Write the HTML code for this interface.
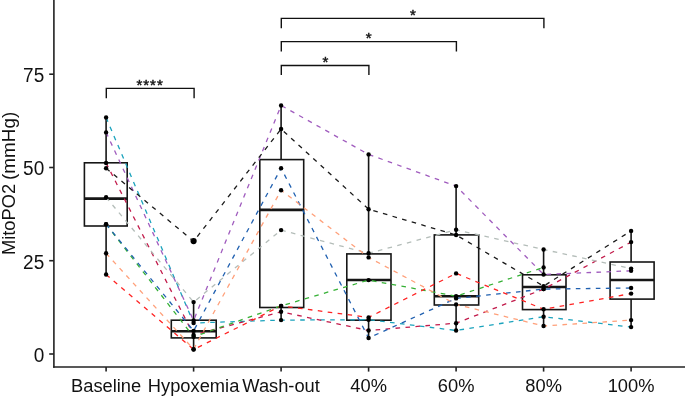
<!DOCTYPE html><html><head><meta charset="utf-8"><title>MitoPO2</title>
<style>html,body{margin:0;padding:0;background:#fff}svg{display:block}text{font-family:"Liberation Sans",Arial,sans-serif;fill:#111}</style></head><body>
<svg width="685" height="397" viewBox="0 0 685 397">
<rect width="685" height="397" fill="#fff"/>
<g fill="#fff" stroke="#161616" stroke-width="1.6">
<line x1="106.1" y1="117.0" x2="106.1" y2="162.8"/>
<line x1="106.1" y1="226.0" x2="106.1" y2="274.5"/>
<rect x="84.4" y="162.8" width="42.8" height="63.2"/>
<line x1="84.4" y1="198.6" x2="127.2" y2="198.6" stroke-width="2.6"/>
<line x1="193.6" y1="302.0" x2="193.6" y2="320.2"/>
<line x1="193.6" y1="337.9" x2="193.6" y2="349.4"/>
<rect x="171.3" y="320.2" width="44.9" height="17.7"/>
<line x1="171.3" y1="331.3" x2="216.2" y2="331.3" stroke-width="2.6"/>
<line x1="281.1" y1="105.4" x2="281.1" y2="159.6"/>
<line x1="281.1" y1="307.5" x2="281.1" y2="320.0"/>
<rect x="259.8" y="159.6" width="43.9" height="147.9"/>
<line x1="259.8" y1="209.9" x2="303.7" y2="209.9" stroke-width="2.6"/>
<line x1="368.6" y1="154.2" x2="368.6" y2="253.9"/>
<line x1="368.6" y1="320.2" x2="368.6" y2="337.9"/>
<rect x="346.8" y="253.9" width="44.2" height="66.3"/>
<line x1="346.8" y1="280.0" x2="391.0" y2="280.0" stroke-width="2.6"/>
<line x1="456.1" y1="186.0" x2="456.1" y2="234.9"/>
<line x1="456.1" y1="305.0" x2="456.1" y2="330.5"/>
<rect x="434.3" y="234.9" width="44.4" height="70.1"/>
<line x1="434.3" y1="296.3" x2="478.7" y2="296.3" stroke-width="2.6"/>
<line x1="543.6" y1="249.6" x2="543.6" y2="274.8"/>
<line x1="543.6" y1="309.6" x2="543.6" y2="326.0"/>
<rect x="522.5" y="274.8" width="43.5" height="34.8"/>
<line x1="522.5" y1="287.0" x2="566.0" y2="287.0" stroke-width="2.6"/>
<line x1="631.1" y1="230.9" x2="631.1" y2="262.0"/>
<line x1="631.1" y1="299.1" x2="631.1" y2="327.2"/>
<rect x="610.1" y="262.0" width="44.0" height="37.1"/>
<line x1="610.1" y1="280.0" x2="654.1" y2="280.0" stroke-width="2.6"/>
</g>
<circle cx="193.6" cy="241.1" r="3.1" fill="#000"/>
<g fill="none" stroke-width="1.3" stroke-dasharray="4.6 5.4">
<path d="M106.1 117.5 L193.6 323.0 L281.1 320.1 L368.6 319.7 L456.1 330.5 L543.6 316.7 L631.1 327.1" stroke="#1BA3BD"/>
<path d="M106.1 132.4 L193.6 320.4 L281.1 105.5 L368.6 154.4 L456.1 186.1 L543.6 274.5 L631.1 270.8" stroke="#A05CBE"/>
<path d="M106.1 163.0 L193.6 335.0 L281.1 311.8 L368.6 330.5 L456.1 323.2 L543.6 289.1 L631.1 242.1" stroke="#C21B4B"/>
<path d="M106.1 168.2 L193.6 241.3 L281.1 129.0 L368.6 209.2 L456.1 235.0 L543.6 286.1 L631.1 230.9" stroke="#1a1a1a"/>
<path d="M106.1 197.3 L193.6 302.1 L281.1 230.1 L368.6 253.3 L456.1 229.8 L543.6 249.5 L631.1 268.6" stroke="#B4BDB9"/>
<path d="M106.1 224.2 L193.6 336.8 L281.1 305.9 L368.6 280.1 L456.1 296.2 L543.6 267.4" stroke="#35B035"/>
<path d="M106.1 224.2 L193.6 330.9 L281.1 168.2 L368.6 338.0 L456.1 298.4 L543.6 289.1 L631.1 288.0" stroke="#2060B0"/>
<path d="M106.1 253.3 L193.6 349.2 L281.1 190.2 L368.6 257.4 L456.1 304.4 L543.6 326.0 L631.1 320.1" stroke="#FFA07A"/>
<path d="M106.1 274.5 L193.6 349.5 L281.1 305.9 L368.6 317.4 L456.1 273.4 L543.6 309.2 L631.1 293.6" stroke="#FF2222"/>
</g>
<g fill="#000">
<circle cx="106.1" cy="117.5" r="2.2"/>
<circle cx="193.6" cy="323.0" r="2.2"/>
<circle cx="281.1" cy="320.1" r="2.2"/>
<circle cx="368.6" cy="319.7" r="2.2"/>
<circle cx="456.1" cy="330.5" r="2.2"/>
<circle cx="543.6" cy="316.7" r="2.2"/>
<circle cx="631.1" cy="327.1" r="2.2"/>
<circle cx="106.1" cy="132.4" r="2.2"/>
<circle cx="193.6" cy="320.4" r="2.2"/>
<circle cx="281.1" cy="105.5" r="2.2"/>
<circle cx="368.6" cy="154.4" r="2.2"/>
<circle cx="456.1" cy="186.1" r="2.2"/>
<circle cx="543.6" cy="274.5" r="2.2"/>
<circle cx="631.1" cy="270.8" r="2.2"/>
<circle cx="106.1" cy="163.0" r="2.2"/>
<circle cx="193.6" cy="335.0" r="2.2"/>
<circle cx="281.1" cy="311.8" r="2.2"/>
<circle cx="368.6" cy="330.5" r="2.2"/>
<circle cx="456.1" cy="323.2" r="2.2"/>
<circle cx="543.6" cy="289.1" r="2.2"/>
<circle cx="631.1" cy="242.1" r="2.2"/>
<circle cx="106.1" cy="168.2" r="2.2"/>
<circle cx="193.6" cy="241.3" r="2.2"/>
<circle cx="281.1" cy="129.0" r="2.2"/>
<circle cx="368.6" cy="209.2" r="2.2"/>
<circle cx="456.1" cy="235.0" r="2.2"/>
<circle cx="543.6" cy="286.1" r="2.2"/>
<circle cx="631.1" cy="230.9" r="2.2"/>
<circle cx="106.1" cy="197.3" r="2.2"/>
<circle cx="193.6" cy="302.1" r="2.2"/>
<circle cx="281.1" cy="230.1" r="2.2"/>
<circle cx="368.6" cy="253.3" r="2.2"/>
<circle cx="456.1" cy="229.8" r="2.2"/>
<circle cx="543.6" cy="249.5" r="2.2"/>
<circle cx="631.1" cy="268.6" r="2.2"/>
<circle cx="106.1" cy="224.2" r="2.2"/>
<circle cx="193.6" cy="336.8" r="2.2"/>
<circle cx="281.1" cy="305.9" r="2.2"/>
<circle cx="368.6" cy="280.1" r="2.2"/>
<circle cx="456.1" cy="296.2" r="2.2"/>
<circle cx="543.6" cy="267.4" r="2.2"/>
<circle cx="106.1" cy="224.2" r="2.2"/>
<circle cx="193.6" cy="330.9" r="2.2"/>
<circle cx="281.1" cy="168.2" r="2.2"/>
<circle cx="368.6" cy="338.0" r="2.2"/>
<circle cx="456.1" cy="298.4" r="2.2"/>
<circle cx="543.6" cy="289.1" r="2.2"/>
<circle cx="631.1" cy="288.0" r="2.2"/>
<circle cx="106.1" cy="253.3" r="2.2"/>
<circle cx="193.6" cy="349.2" r="2.2"/>
<circle cx="281.1" cy="190.2" r="2.2"/>
<circle cx="368.6" cy="257.4" r="2.2"/>
<circle cx="456.1" cy="304.4" r="2.2"/>
<circle cx="543.6" cy="326.0" r="2.2"/>
<circle cx="631.1" cy="320.1" r="2.2"/>
<circle cx="106.1" cy="274.5" r="2.2"/>
<circle cx="193.6" cy="349.5" r="2.2"/>
<circle cx="281.1" cy="305.9" r="2.2"/>
<circle cx="368.6" cy="317.4" r="2.2"/>
<circle cx="456.1" cy="273.4" r="2.2"/>
<circle cx="543.6" cy="309.2" r="2.2"/>
<circle cx="631.1" cy="293.6" r="2.2"/>
</g>
<g stroke="#222" stroke-width="1.6" fill="none">
<line x1="53.9" y1="0" x2="53.9" y2="367.8"/>
<line x1="53.1" y1="367.0" x2="685" y2="367.0"/>
<line x1="49.2" y1="354.0" x2="53.9" y2="354.0"/>
<line x1="49.2" y1="260.7" x2="53.9" y2="260.7"/>
<line x1="49.2" y1="167.5" x2="53.9" y2="167.5"/>
<line x1="49.2" y1="74.2" x2="53.9" y2="74.2"/>
<line x1="106.1" y1="367.0" x2="106.1" y2="371.6"/>
<line x1="193.6" y1="367.0" x2="193.6" y2="371.6"/>
<line x1="281.1" y1="367.0" x2="281.1" y2="371.6"/>
<line x1="368.6" y1="367.0" x2="368.6" y2="371.6"/>
<line x1="456.1" y1="367.0" x2="456.1" y2="371.6"/>
<line x1="543.6" y1="367.0" x2="543.6" y2="371.6"/>
<line x1="631.1" y1="367.0" x2="631.1" y2="371.6"/>
</g>
<text transform="translate(44.2,361.9) scale(1,1.07)" font-size="19" text-anchor="end">0</text>
<text transform="translate(44.2,268.6) scale(1,1.07)" font-size="19" text-anchor="end">25</text>
<text transform="translate(44.2,175.4) scale(1,1.07)" font-size="19" text-anchor="end">50</text>
<text transform="translate(44.2,82.1) scale(1,1.07)" font-size="19" text-anchor="end">75</text>
<text x="106.1" y="392.0" font-size="18.3" text-anchor="middle">Baseline</text>
<text x="193.6" y="392.0" font-size="18.3" text-anchor="middle">Hypoxemia</text>
<text x="281.1" y="392.0" font-size="18.3" text-anchor="middle">Wash-out</text>
<text x="368.6" y="392.0" font-size="18.3" text-anchor="middle">40%</text>
<text x="456.1" y="392.0" font-size="18.3" text-anchor="middle">60%</text>
<text x="543.6" y="392.0" font-size="18.3" text-anchor="middle">80%</text>
<text x="631.1" y="392.0" font-size="18.3" text-anchor="middle">100%</text>
<text transform="translate(15.4,255.0) rotate(-90)" font-size="18.3">MitoPO2 <tspan font-size="18.9" dx="-1.2">(mmHg)</tspan></text>
<path d="M106.3 98.2 V88.4 H194.1 V98.2" fill="none" stroke="#111" stroke-width="1.4"/>
<text x="150.1" y="89.9" font-size="15" letter-spacing="1" stroke="#111" stroke-width="0.45" text-anchor="middle">****</text>
<path d="M281.3 75.1 V65.5 H368.9 V75.1" fill="none" stroke="#111" stroke-width="1.4"/>
<text x="326.0" y="67.0" font-size="15" letter-spacing="1" stroke="#111" stroke-width="0.45" text-anchor="middle">*</text>
<path d="M281.3 51.4 V41.6 H456.4 V51.4" fill="none" stroke="#111" stroke-width="1.4"/>
<text x="369.1" y="43.1" font-size="15" letter-spacing="1" stroke="#111" stroke-width="0.45" text-anchor="middle">*</text>
<path d="M281.3 28.2 V18.4 H543.9 V28.2" fill="none" stroke="#111" stroke-width="1.4"/>
<text x="413.3" y="19.9" font-size="15" letter-spacing="1" stroke="#111" stroke-width="0.45" text-anchor="middle">*</text>
</svg></body></html>
